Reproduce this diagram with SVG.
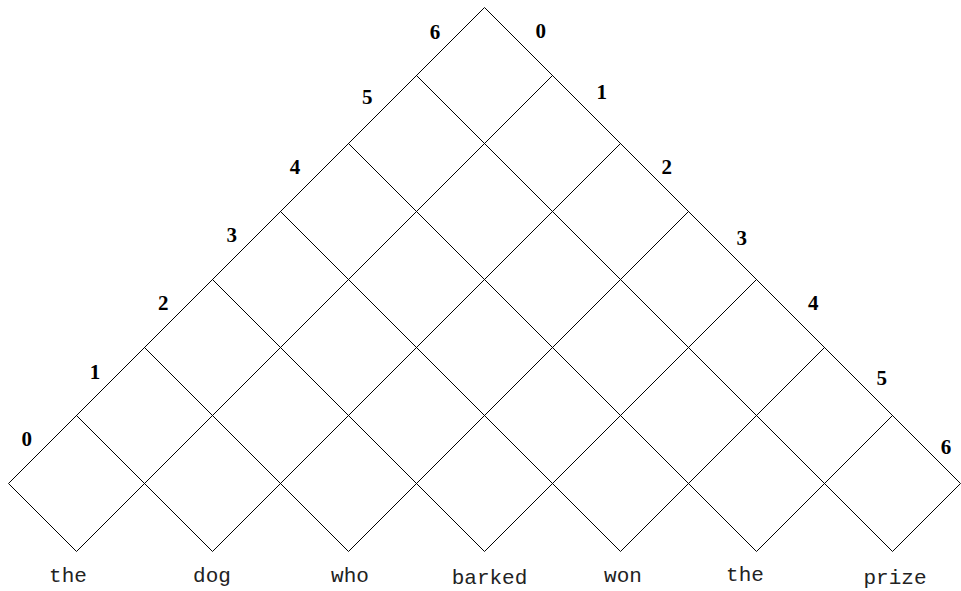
<svg xmlns="http://www.w3.org/2000/svg" width="961" height="591" viewBox="0 0 961 591">
<style>
.g line{stroke:#000;stroke-width:1;fill:none}
.n{font-family:"Liberation Serif","Times New Roman",serif;font-weight:bold;font-size:21px;text-anchor:middle;fill:#000}
.w{font-family:"Liberation Mono","Courier New",monospace;font-size:21px;text-anchor:middle;fill:#222}
</style>
<rect width="961" height="591" fill="#fff"/>
<g id="connectors" class="g">
<line x1="8.5" y1="483.5" x2="484.5" y2="7.5"/>
<line x1="484.5" y1="7.5" x2="960.5" y2="483.5"/>
<line x1="76.5" y1="551.5" x2="552.5" y2="75.5"/>
<line x1="212.5" y1="551.5" x2="620.5" y2="143.5"/>
<line x1="348.5" y1="551.5" x2="688.5" y2="211.5"/>
<line x1="484.5" y1="551.5" x2="756.5" y2="279.5"/>
<line x1="620.5" y1="551.5" x2="824.5" y2="347.5"/>
<line x1="756.5" y1="551.5" x2="892.5" y2="415.5"/>
<line x1="892.5" y1="551.5" x2="960.5" y2="483.5"/>
<line x1="76.5" y1="551.5" x2="8.5" y2="483.5"/>
<line x1="212.5" y1="551.5" x2="76.5" y2="415.5"/>
<line x1="348.5" y1="551.5" x2="144.5" y2="347.5"/>
<line x1="484.5" y1="551.5" x2="212.5" y2="279.5"/>
<line x1="620.5" y1="551.5" x2="280.5" y2="211.5"/>
<line x1="756.5" y1="551.5" x2="348.5" y2="143.5"/>
<line x1="892.5" y1="551.5" x2="416.5" y2="75.5"/>
</g>
<g id="left-labels">
<text class="n" x="26.7" y="446">0</text>
<text class="n" x="95" y="379">1</text>
<text class="n" x="163.3" y="310">2</text>
<text class="n" x="231.7" y="242">3</text>
<text class="n" x="295" y="174">4</text>
<text class="n" x="367.3" y="103.5">5</text>
<text class="n" x="435" y="38.5">6</text>
</g>
<g id="right-labels">
<text class="n" x="540.7" y="37.5">0</text>
<text class="n" x="601.7" y="98.5">1</text>
<text class="n" x="666.7" y="173.5">2</text>
<text class="n" x="741.7" y="245">3</text>
<text class="n" x="813.3" y="310">4</text>
<text class="n" x="881.7" y="385">5</text>
<text class="n" x="946" y="454">6</text>
</g>
<g id="words">
<text class="w" x="68" y="582">the</text>
<text class="w" x="212" y="582">dog</text>
<text class="w" x="350" y="582">who</text>
<text class="w" x="489.5" y="584">barked</text>
<text class="w" x="623" y="582">won</text>
<text class="w" x="745" y="581">the</text>
<text class="w" x="895" y="584">prize</text>
</g>
</svg>
